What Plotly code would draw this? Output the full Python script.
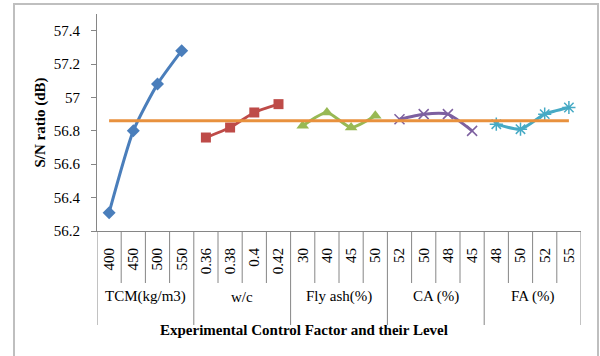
import plotly.graph_objects as go

# Factor groups and their levels (20 categories along the x axis)
groups = ["TCM(kg/m3)", "w/c", "Fly ash(%)", "CA (%)", "FA (%)"]
levels = [
    ["400", "450", "500", "550"],
    ["0.36", "0.38", "0.4", "0.42"],
    ["30", "40", "45", "50"],
    ["52", "50", "48", "45"],
    ["48", "50", "52", "55"],
]

# Mean S/N ratio (dB) for each factor level
sn_tcm = [56.31, 56.80, 57.08, 57.28]
sn_wc = [56.76, 56.82, 56.91, 56.96]
sn_flyash = [56.83, 56.91, 56.82, 56.89]
sn_ca = [56.87, 56.90, 56.90, 56.80]
sn_fa = [56.84, 56.81, 56.90, 56.94]

# Overall mean S/N ratio
grand_mean = 56.86

series = [sn_tcm, sn_wc, sn_flyash, sn_ca, sn_fa]
colors = ["#4A7EBB", "#BE4B48", "#98B954", "#7D60A0", "#46AAC5"]
symbols = ["diamond", "square", "triangle-up", "x-thin-open", "asterisk-open"]
msizes = [10, 10, 11, 10, 11]

tick_text = [lv for grp in levels for lv in grp]
n_cat = len(tick_text)
xs_all = list(range(n_cat))

W, H = 600, 356
L, R, T, B = 97, 19, 14, 125
plot_w = W - L - R
plot_h = H - T - B

def px_x(px):
    return (px - L) / plot_w

def px_y(py):
    return (H - B - py) / plot_h

fig = go.Figure()

for i, vals in enumerate(series):
    xs = xs_all[i * 4:(i + 1) * 4]
    line_kw = dict(color=colors[i], width=3, shape="spline", smoothing=0.6)
    mk = dict(symbol=symbols[i], size=msizes[i], color=colors[i])
    if symbols[i].endswith("open"):
        mk["line"] = dict(color=colors[i], width=1.5)
    fig.add_trace(go.Scatter(x=xs, y=vals, mode="lines+markers",
                             line=line_kw, marker=mk,
                             name=groups[i], showlegend=False))

fig.add_trace(go.Scatter(x=[xs_all[0], xs_all[-1]], y=[grand_mean, grand_mean],
                         mode="lines", line=dict(color="#E8913E", width=3),
                         showlegend=False))

serif = "Liberation Serif, Times New Roman, serif"

fig.update_layout(
    width=W, height=H,
    margin=dict(l=L, r=R, t=T, b=B),
    paper_bgcolor="white", plot_bgcolor="white",
    font=dict(family=serif, size=15, color="#000000"),
    xaxis=dict(
        range=[-0.5, n_cat - 0.5],
        tickvals=xs_all, ticktext=tick_text, tickangle=-90,
        ticks="", showgrid=False, zeroline=False,
        showline=True, linecolor="#868686", linewidth=1,
        ticklabelstandoff=10,
        tickfont=dict(family=serif, size=15),
    ),
    yaxis=dict(
        range=[56.2, 57.5], tickvals=[56.2, 56.4, 56.6, 56.8, 57.0, 57.2, 57.4],
        ticktext=["56.2", "56.4", "56.6", "56.8", "57", "57.2", "57.4"],
        ticks="outside", ticklen=5, tickcolor="#868686",
        showgrid=False, zeroline=False,
        showline=True, linecolor="#868686", linewidth=1,
        ticklabelstandoff=8,
        tickfont=dict(family=serif, size=15),
    ),
)

shapes = []
# Category dividers under the axis
for k in range(n_cat + 1):
    xb = k - 0.5
    is_group = (k % 4 == 0)
    shapes.append(dict(type="line", xref="x", yref="paper",
                       x0=xb, x1=xb, y0=0, y1=px_y(325 if is_group else 283),
                       line=dict(color="#868686", width=1)))
# Outer chart border
shapes.append(dict(type="rect", xref="paper", yref="paper",
                   x0=px_x(14), x1=px_x(598), y0=px_y(360), y1=px_y(4),
                   line=dict(color="#BFBFBF", width=2), fillcolor="rgba(0,0,0,0)",
                   layer="below"))
fig.update_layout(shapes=shapes)

annotations = []
for i, g in enumerate(groups):
    annotations.append(dict(x=i * 4 + 1.5, y=px_y(307), xref="x", yref="paper",
                            text=g, showarrow=False,
                            font=dict(family=serif, size=15)))
annotations.append(dict(x=px_x(304), y=px_y(340), xref="paper", yref="paper",
                        text="<b>Experimental Control Factor and their Level</b>",
                        showarrow=False, font=dict(family=serif, size=15)))
annotations.append(dict(x=px_x(30), y=px_y(123), xref="paper", yref="paper",
                        text="<b>S/N ratio (dB)</b>", textangle=-90,
                        showarrow=False, font=dict(family=serif, size=15)))
fig.update_layout(annotations=annotations)

fig.write_html("out.html")
